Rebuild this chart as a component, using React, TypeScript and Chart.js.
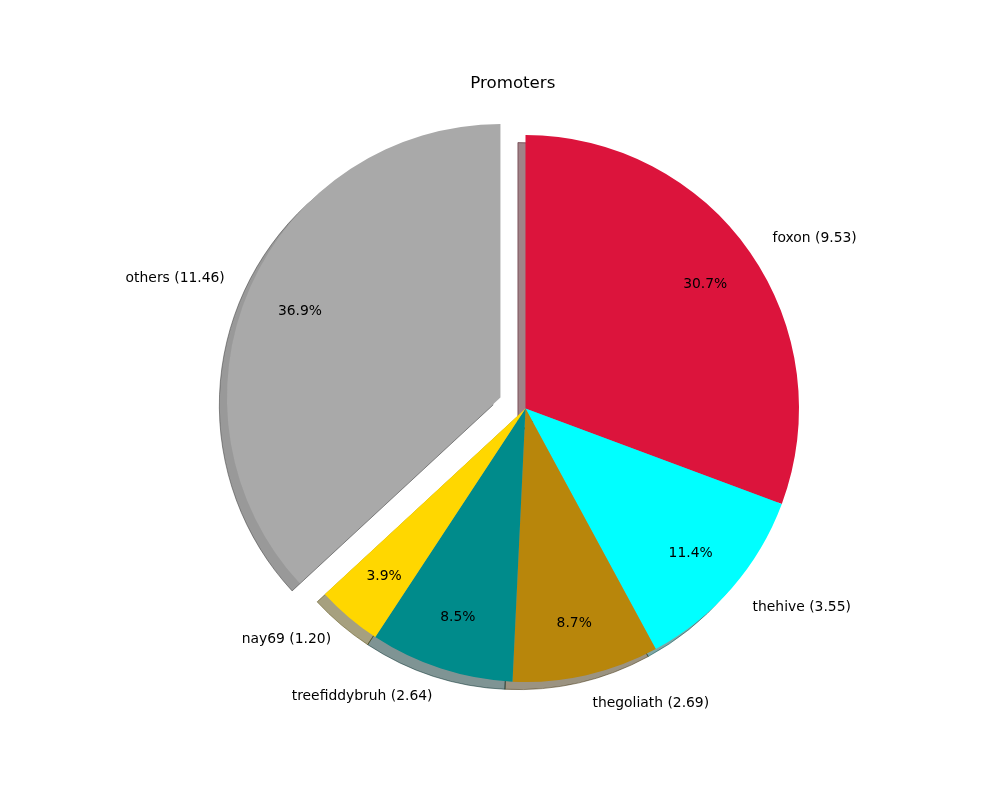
import { useEffect, useRef } from 'react';
import { Chart, registerables } from 'chart.js';

Chart.register(...registerables);

const TITLE = 'Promoters';
const labels = ['foxon', 'thehive', 'thegoliath', 'treefiddybruh', 'nay69', 'others'];
const values = [9.53, 3.55, 2.69, 2.64, 1.2, 11.46];
const colors = ['#DC143C', '#00FFFF', '#B8860B', '#008B8B', '#FFD700', '#A9A9A9'];
const explode = [0, 0, 0, 0, 0, 0.1];

const FONT = "'DejaVu Sans', sans-serif";
const RADIUS = 273.5;
const SHADOW_OFF = 0.02 * (100 / 72);

function hexToRgb(h: string) {
  const n = parseInt(h.slice(1), 16);
  return [(n >> 16) & 255, (n >> 8) & 255, n & 255];
}

export default function App() {
  const ref = useRef<HTMLCanvasElement>(null);

  useEffect(() => {
    document.body.style.margin = '0';
    const total = values.reduce((a, b) => a + b, 0);

    const mplPlugin = {
      id: 'mplPie',
      afterDatasetUpdate(chart: any, args: any) {
        const meta = chart.getDatasetMeta(args.index);
        meta.data.forEach((el: any, i: number) => {
          const e = explode[i];
          if (!e) return;
          const mid = (el.startAngle + el.endAngle) / 2;
          el.x += Math.cos(mid) * e * el.outerRadius;
          el.y += Math.sin(mid) * e * el.outerRadius;
        });
      },
      beforeDatasetsDraw(chart: any) {
        const ctx = chart.ctx;
        const meta = chart.getDatasetMeta(0);
        meta.data.forEach((el: any, i: number) => {
          const r = el.outerRadius;
          const dx = -SHADOW_OFF * r;
          const dy = SHADOW_OFF * r;
          const [R, G, B] = hexToRgb(colors[i]);
          const c = `rgba(${Math.round(R * 0.3)},${Math.round(G * 0.3)},${Math.round(B * 0.3)},0.5)`;
          ctx.save();
          ctx.beginPath();
          ctx.moveTo(el.x + dx, el.y + dy);
          ctx.arc(el.x + dx, el.y + dy, r, el.startAngle, el.endAngle);
          ctx.closePath();
          ctx.fillStyle = c;
          ctx.strokeStyle = c;
          ctx.lineWidth = 1;
          ctx.fill();
          ctx.stroke();
          ctx.restore();
        });
      },
      afterDatasetsDraw(chart: any) {
        const ctx = chart.ctx;
        const meta = chart.getDatasetMeta(0);
        ctx.save();
        ctx.fillStyle = '#000';
        ctx.font = `13.89px ${FONT}`;
        ctx.textBaseline = 'middle';
        meta.data.forEach((el: any, i: number) => {
          const r = el.outerRadius;
          const mid = (el.startAngle + el.endAngle) / 2;
          const c = Math.cos(mid);
          const s = Math.sin(mid);
          const lx = el.x + 1.1 * r * c;
          const ly = el.y + 1.1 * r * s + 1.5;
          ctx.textAlign = c > 0 ? 'left' : 'right';
          ctx.fillText(`${labels[i]} (${values[i].toFixed(2)})`, lx, ly);
          const px = el.x + 0.8 * r * c;
          const py = el.y + 0.8 * r * s + 1.2;
          ctx.textAlign = 'center';
          ctx.fillText(`${((values[i] / total) * 100).toFixed(1)}%`, px, py);
        });
        ctx.restore();
      },
      afterDraw(chart: any) {
        const ctx = chart.ctx;
        ctx.save();
        ctx.fillStyle = '#000';
        ctx.font = `16.67px ${FONT}`;
        ctx.textAlign = 'center';
        ctx.textBaseline = 'alphabetic';
        ctx.fillText(TITLE, 512.8, 87.7);
        ctx.restore();
      },
    };

    const chart = new Chart(ref.current as HTMLCanvasElement, {
      type: 'pie',
      data: {
        labels,
        datasets: [
          {
            data: values,
            backgroundColor: colors,
            borderWidth: 0,
          },
        ],
      },
      options: {
        responsive: false,
        animation: false,
        radius: RADIUS,
        layout: { padding: { left: 51, top: 17, right: 0, bottom: 0 } },
        plugins: {
          legend: { display: false },
          tooltip: { enabled: false },
          title: { display: false },
        },
      } as any,
      plugins: [mplPlugin as any],
    });
    return () => chart.destroy();
  }, []);

  return (
    <div style={{ width: 1000, height: 800, background: '#fff' }}>
      <canvas ref={ref} width={1000} height={800} style={{ display: 'block' }} />
    </div>
  );
}
